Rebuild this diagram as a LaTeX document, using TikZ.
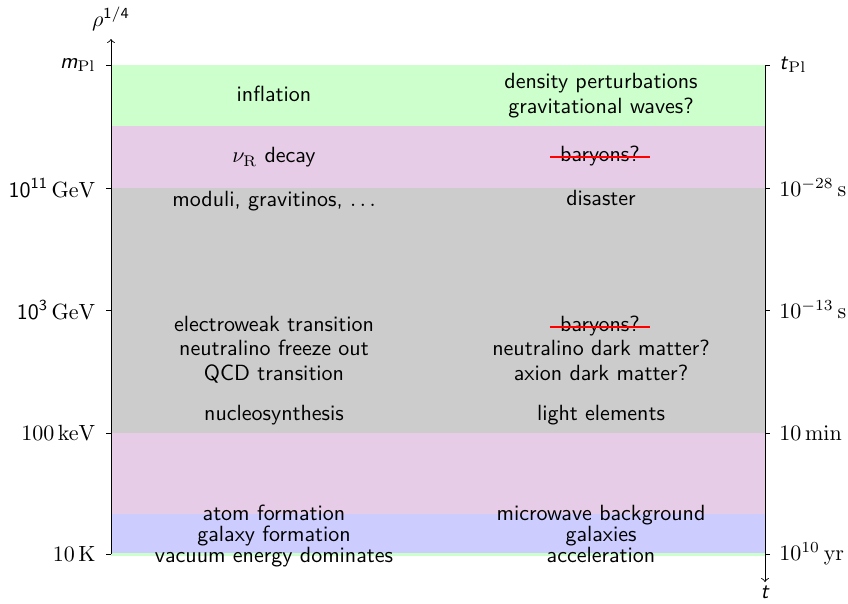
\documentclass[tikz,border=0pt]{standalone}
\usetikzlibrary{calc}
\definecolor{bandgreen}{RGB}{204,255,204}
\definecolor{bandpink}{RGB}{230,204,230}
\definecolor{bandgray}{RGB}{204,204,204}
\definecolor{bandblue}{RGB}{204,204,255}
\begin{document}
\begin{tikzpicture}[x=0.4545pt,y=-0.4545pt,
  lbl/.style={font=\sffamily,inner sep=0pt,anchor=base},
  axlab/.style={inner sep=0pt},
  axisline/.style={line width=0.4pt},
  tick/.style={line width=0.4pt},
  strike/.style={red,line width=1pt}]
\useasboundingbox (0,0) rectangle (848,603);
% bands
\fill[bandgreen] (111,65) rectangle (765,126);
\fill[bandpink]  (111,126) rectangle (765,188);
\fill[bandgray]  (111,188) rectangle (765,433);
\fill[bandpink]  (111,433) rectangle (765,513.5);
\fill[bandblue]  (111,513.5) rectangle (765,553);
\fill[bandgreen] (111,553) rectangle (765,556);
% left column
\node[lbl] (infl) at (274,101) {inflation};
\node[lbl] (nur) at (274,162.7) {$\nu_{\mathrm{R}}$ decay};
\node[lbl] (mod) at (274,206.5) {moduli, gravitinos, $\ldots$};
\node[lbl] (ew) at (274,331.7) {electroweak transition};
\node[lbl] (nfo) at (274,355.7) {neutralino freeze out};
\node[lbl] (qcd) at (274,380.5) {QCD transition};
\node[lbl] (nuc) at (274,420.7) {nucleosynthesis};
\node[lbl] (atom) at (274,520) {atom formation};
\node[lbl] (galf) at (274,541) {galaxy formation};
\node[lbl] (vac) at (274,562) {vacuum energy dominates};
% right column
\node[lbl] (dens) at (601,88) {density perturbations};
\node[lbl] (grav) at (601,113) {gravitational waves?};
\node[lbl] (bar1) at (600,161.7) {baryons?};
\node[lbl] (dis) at (601,205) {disaster};
\node[lbl] (bar2) at (600,331.7) {baryons?};
\node[lbl] (ndm) at (601,355.5) {neutralino dark matter?};
\node[lbl] (adm) at (601,380.3) {axion dark matter?};
\node[lbl] (light) at (601,420.7) {light elements};
\node[lbl] (cmb) at (601,520) {microwave background};
\node[lbl] (gal) at (601,541) {galaxies};
\node[lbl] (acc) at (601,562) {acceleration};
% strike-throughs
\draw[strike] ($(bar1.base west)+(-10,-5)$) -- ($(bar1.base east)+(10,-5)$);
\draw[strike] ($(bar2.base west)+(-10,-5)$) -- ($(bar2.base east)+(10,-5)$);
% left axis
\coordinate (lbot) at (111,554);
\coordinate (ltop) at (111,39);
\draw[axisline,->] (lbot) -- (ltop);
\node[above] (rho) at (ltop) {$\rho^{\mathsf{1/4}}$};
\foreach \yy/\nm in {65/a,188/b,310/c,433/d,554/e}{
  \coordinate (lt\nm) at (106,\yy);
  \draw[tick] (lt\nm) -- (111,\yy);
}
\node[axlab,anchor=east] (lmpl) at (96,65) {$\textsf{\textit{m}}_{\mathrm{Pl}}$};
\node[axlab,anchor=east] (l11) at (96,188) {$\mathsf{10}^{\mathsf{11}}\,\mathrm{GeV}$};
\node[axlab,anchor=east] (l3) at (96,310) {$\mathsf{10}^{\mathsf{3}}\,\mathrm{GeV}$};
\node[axlab,anchor=east] (lkev) at (96,433) {$100\,\mathrm{keV}$};
\node[axlab,anchor=east] (lk) at (96,554) {$10\,\mathrm{K}$};
% right axis
\coordinate (rtop) at (765,65);
\coordinate (rbot) at (765,582);
\draw[axisline,->] (rtop) -- (rbot);
\node[below,inner sep=1.5pt] (tlab) at (rbot) {\textsf{\textit{t}}};
\foreach \yy/\nm in {65/a,188/b,310/c,433/d,554/e}{
  \coordinate (rt\nm) at (770,\yy);
  \draw[tick] (765,\yy) -- (rt\nm);
}
\node[axlab,anchor=west] (rtpl) at (779,65) {$\textsf{\textit{t}}_{\mathrm{Pl}}$};
\node[axlab,anchor=west] (r28) at (779,188) {$10^{-28}\,\mathrm{s}$};
\node[axlab,anchor=west] (r13) at (779,310) {$10^{-13}\,\mathrm{s}$};
\node[axlab,anchor=west] (rmin) at (779,433) {$10\,\mathrm{min}$};
\node[axlab,anchor=west] (ryr) at (779,554) {$10^{10}\,\mathrm{yr}$};
\end{tikzpicture}
\end{document}
